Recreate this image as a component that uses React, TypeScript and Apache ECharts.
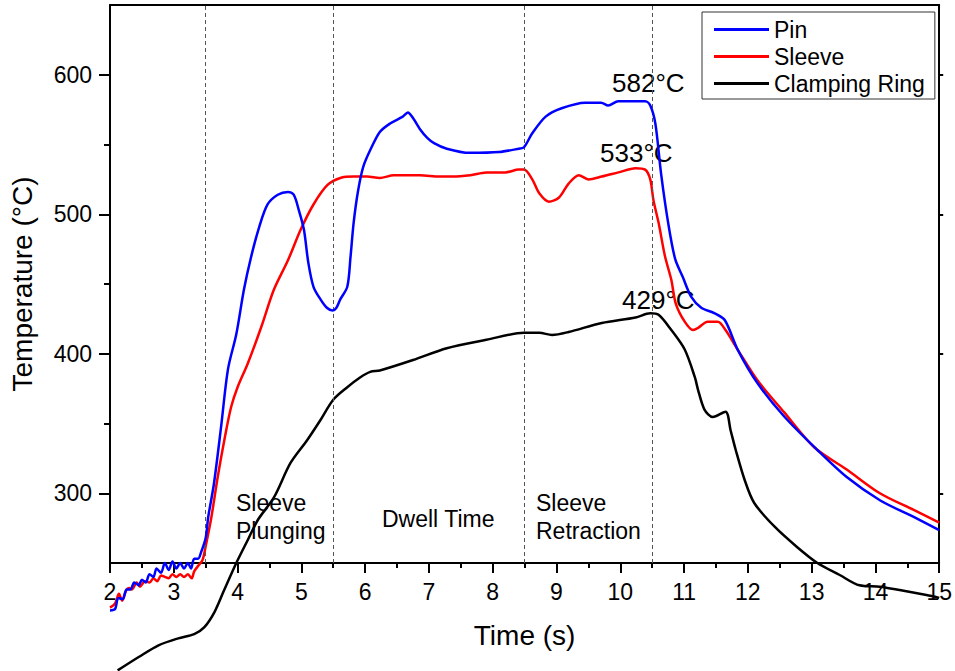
import React, { useEffect, useRef } from "react";
import * as echarts from "echarts";

const FONT = '"Liberation Sans", Arial, sans-serif';

const pinX = [2.0, 2.08, 2.13, 2.2, 2.26, 2.32, 2.38, 2.45, 2.5, 2.56, 2.62, 2.68, 2.73, 2.8, 2.86, 2.92, 2.98, 3.04, 3.1, 3.16, 3.22, 3.27, 3.32, 3.38, 3.43, 3.5, 3.54, 3.63, 3.74, 3.85, 3.98, 4.1, 4.21, 4.34, 4.47, 4.63, 4.79, 4.88, 4.96, 5.04, 5.11, 5.19, 5.3, 5.4, 5.49, 5.55, 5.61, 5.72, 5.77, 5.82, 5.89, 5.97, 6.08, 6.23, 6.39, 6.59, 6.67, 6.75, 6.86, 6.97, 7.08, 7.28, 7.64, 8.1, 8.41, 8.49, 8.62, 8.83, 9.08, 9.45, 9.7, 9.81, 9.97, 10.39, 10.47, 10.55, 10.64, 10.75, 10.86, 10.98, 11.11, 11.27, 11.48, 11.64, 11.84, 12.15, 12.57, 13.09, 13.55, 14.07, 14.6, 15.0];
const pinY = [216, 217, 225, 224, 231, 231, 236, 234, 238, 236, 242, 240, 246, 243, 250, 245, 251, 246, 250, 246, 250, 246, 253, 253, 258, 268, 283, 307, 347, 389, 414, 446, 469, 491, 507, 514, 516, 514, 503, 489, 465, 448, 439, 433, 431, 433, 439, 448, 469, 494, 517, 534, 546, 559, 565, 570, 573, 569, 561, 555, 551, 547, 544, 544.6, 547, 548, 558, 570, 576, 580, 580, 578, 581, 581, 578, 565, 529, 494, 468, 455, 441, 433, 429, 424, 403, 379, 355, 331, 311.6, 295, 283, 273.6];

const sleeveX = [2.0, 2.08, 2.14, 2.19, 2.25, 2.3, 2.34, 2.42, 2.47, 2.55, 2.62, 2.68, 2.74, 2.8, 2.86, 2.92, 2.98, 3.04, 3.1, 3.16, 3.22, 3.28, 3.32, 3.4, 3.45, 3.5, 3.59, 3.69, 3.8, 3.9, 4.0, 4.16, 4.37, 4.57, 4.79, 4.99, 5.19, 5.41, 5.61, 5.82, 6.03, 6.23, 6.45, 6.75, 6.86, 7.17, 7.37, 7.65, 7.9, 8.2, 8.41, 8.49, 8.62, 8.73, 8.88, 9.04, 9.19, 9.35, 9.5, 9.71, 9.97, 10.24, 10.39, 10.47, 10.52, 10.6, 10.7, 10.8, 10.87, 11.01, 11.14, 11.22, 11.37, 11.53, 11.65, 11.84, 12.15, 12.57, 13.04, 13.55, 14.07, 14.6, 15.0];
const sleeveY = [218, 221, 228, 223, 230, 232, 231, 236, 233, 237, 236, 239, 237, 241, 240, 239, 242, 240, 242, 240, 242, 239, 244, 249, 252, 262, 283, 312, 340, 362, 376, 393, 419, 446, 467, 489, 507, 521, 526, 527, 527, 526, 528, 528, 528, 527, 527, 528, 530, 530, 532, 532, 525, 515, 509, 512, 522, 528, 525, 527, 530, 533, 532, 525, 510, 494, 470, 453, 436, 423, 417, 418.5, 423, 423, 417, 403, 381, 358, 333, 317, 300, 288, 279];

const ringX = [2.12, 2.45, 2.76, 3.07, 3.32, 3.48, 3.64, 3.79, 3.98, 4.16, 4.32, 4.57, 4.83, 5.09, 5.3, 5.5, 5.72, 5.92, 6.08, 6.23, 6.75, 7.28, 7.9, 8.49, 8.73, 8.93, 9.19, 9.71, 10.24, 10.47, 10.6, 10.8, 11.01, 11.17, 11.22, 11.32, 11.45, 11.65, 11.73, 11.81, 11.95, 12.1, 12.42, 12.77, 13.09, 13.44, 13.75, 14.07, 14.38, 14.8, 15.0];
const ringY = [173, 182.6, 191, 196, 199, 204, 215, 230.6, 250, 266.5, 281, 297, 321.7, 338, 352.5, 367, 376, 383, 387, 388, 395.5, 404, 410, 415, 415, 413.5, 415.6, 422, 426, 429, 428, 417, 403, 383, 374, 360, 354.6, 358.5, 345, 331, 309.5, 293, 276, 261.5, 250, 241.4, 234, 233, 230.6, 227, 225];

const phaseLines = [3.5, 5.5, 8.5, 10.5];
const yMajorTicks = [300, 400, 500, 600];
const yMinorTicks = [350, 450, 550];

const seriesNames = ["Pin", "Sleeve", "Clamping Ring"];
const seriesColors = ["#0000ff", "#ff0000", "#000000"];

const pair = (xs: number[], ys: number[]) => xs.map((x, i) => [x, ys[i]]);

export default function App() {
  const ref = useRef<HTMLDivElement>(null);
  useEffect(() => {
    if (!ref.current) return;
    const chart = echarts.init(ref.current, null, { renderer: "svg" });
    const axisLineStyle = { color: "#000", width: 2 };
    const textCommon = { fontFamily: FONT, color: "#000" };
    const datasets = [pair(pinX, pinY), pair(sleeveX, sleeveY), pair(ringX, ringY)];
    const option: any = {
      animation: false,
      backgroundColor: "#fff",
      grid: { left: 108, right: 12, top: 5, bottom: 108, containLabel: false },
      legend: {
        orient: "vertical",
        left: 702,
        top: 12,
        width: 233,
        padding: [6, 10, 4, 12],
        itemGap: 4,
        itemWidth: 55,
        itemHeight: 3,
        icon: "rect",
        borderColor: "#333",
        borderWidth: 1,
        backgroundColor: "#fff",
        textStyle: { fontFamily: FONT, fontSize: 23, color: "#000", padding: [0, 0, 0, 0] },
        data: seriesNames,
      },
      xAxis: [
        {
          type: "value",
          min: 2,
          max: 15,
          interval: 1,
          name: "Time (s)",
          nameLocation: "middle",
          nameGap: 58,
          nameTextStyle: { ...textCommon, fontSize: 28 },
          axisLine: { show: true, lineStyle: axisLineStyle },
          axisTick: { show: true, length: 10, lineStyle: { color: "#000", width: 2 } },
          minorTick: { show: true, splitNumber: 2, length: 5, lineStyle: { color: "#000", width: 2 } },
          axisLabel: { ...textCommon, fontSize: 23, margin: 17, showMinLabel: true, showMaxLabel: true },
          splitLine: { show: false },
        },
        {
          type: "value",
          position: "top",
          min: 2,
          max: 15,
          interval: 1,
          axisLine: { show: true, lineStyle: axisLineStyle },
          axisTick: { show: false },
          axisLabel: { show: false },
          splitLine: { show: false },
        },
      ],
      yAxis: [
        {
          type: "value",
          min: 250,
          max: 650,
          name: "Temperature (°C)",
          nameLocation: "middle",
          nameGap: 74,
          nameTextStyle: { ...textCommon, fontSize: 28 },
          axisLine: { show: true, lineStyle: axisLineStyle },
          axisTick: { show: true, length: 11, customValues: yMajorTicks, lineStyle: { color: "#000", width: 2 } },
          axisLabel: { ...textCommon, fontSize: 23, margin: 18, customValues: yMajorTicks },
          splitLine: { show: false },
        },
        {
          type: "value",
          position: "left",
          min: 250,
          max: 650,
          axisLine: { show: false },
          axisTick: { show: true, length: 6, customValues: yMinorTicks, lineStyle: { color: "#000", width: 2 } },
          axisLabel: { show: false },
          splitLine: { show: false },
        },
        {
          type: "value",
          position: "right",
          min: 250,
          max: 650,
          axisLine: { show: true, lineStyle: axisLineStyle },
          axisTick: { show: true, length: 4, customValues: yMajorTicks, lineStyle: { color: "#000", width: 2 } },
          axisLabel: { show: false },
          splitLine: { show: false },
        },
      ],
      series: seriesNames.map((name, i) => ({
        name,
        type: "line",
        xAxisIndex: 0,
        yAxisIndex: 0,
        data: datasets[i],
        showSymbol: false,
        symbol: "none",
        clip: false,
        smooth: 0.3,
        lineStyle: { color: seriesColors[i], width: 2.5 },
        itemStyle: { color: seriesColors[i] },
        z: 3 - i + 2,
        markLine:
          i === 0
            ? {
                silent: true,
                symbol: ["none", "none"],
                label: { show: false },
                lineStyle: { color: "#555", width: 1, type: [4, 3] },
                data: phaseLines.map((v) => ({ xAxis: v })),
              }
            : undefined,
      })),
      graphic: [
        { type: "text", x: 236, y: 517, style: { text: "Sleeve\nPlunging", font: `23px ${FONT}`, fill: "#000", align: "left", verticalAlign: "middle", lineHeight: 28 } },
        { type: "text", x: 382, y: 519, style: { text: "Dwell Time", font: `23px ${FONT}`, fill: "#000", align: "left", verticalAlign: "middle" } },
        { type: "text", x: 536, y: 517, style: { text: "Sleeve\nRetraction", font: `23px ${FONT}`, fill: "#000", align: "left", verticalAlign: "middle", lineHeight: 28 } },
        { type: "text", x: 612, y: 83, style: { text: "582°C", font: `26px ${FONT}`, fill: "#000", align: "left", verticalAlign: "middle" } },
        { type: "text", x: 600, y: 153, style: { text: "533°C", font: `26px ${FONT}`, fill: "#000", align: "left", verticalAlign: "middle" } },
        { type: "text", x: 622, y: 300, style: { text: "429°C", font: `26px ${FONT}`, fill: "#000", align: "left", verticalAlign: "middle" } },
      ],
    };
    chart.setOption(option);
    return () => chart.dispose();
  }, []);
  return (
    <div
      ref={ref}
      style={{ position: "fixed", left: 0, top: 0, width: 955, height: 671, background: "#fff" }}
    />
  );
}
